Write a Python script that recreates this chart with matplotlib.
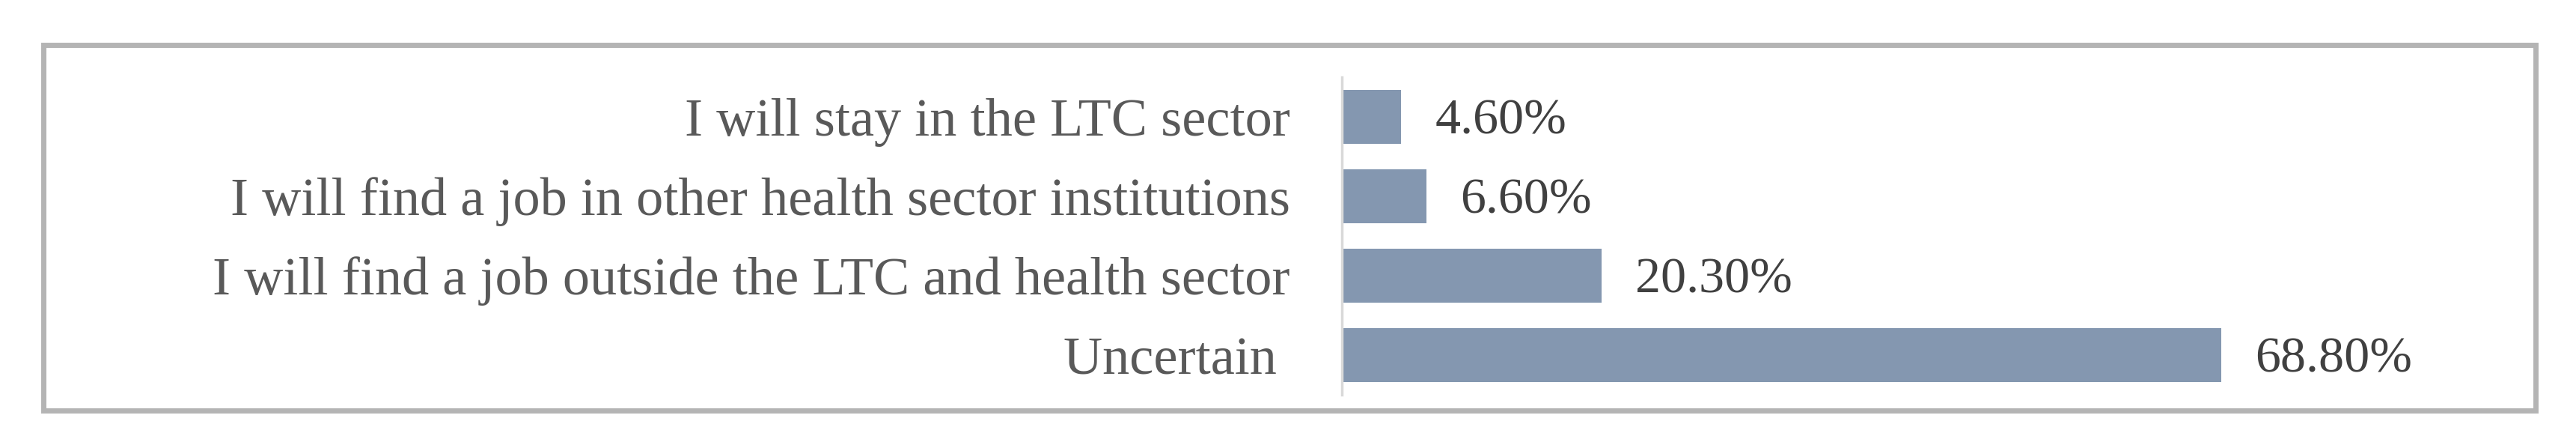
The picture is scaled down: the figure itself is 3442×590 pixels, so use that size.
import matplotlib.pyplot as plt
from matplotlib.patches import Rectangle

# data
categories = [
    "I will stay in the LTC sector",
    "I will find a job in other health sector institutions",
    "I will find a job outside the LTC and health sector",
    "Uncertain ",
]
values = [4.6, 6.6, 20.3, 68.8]

W, H = 3442, 590
fig = plt.figure(figsize=(W / 100, H / 100), dpi=100)

# outer frame round the chart
fig.patches.append(Rectangle((58 / W, 1 - 548 / H), (3388 - 58) / W, (548 - 60) / H,
                             transform=fig.transFigure, fill=False,
                             edgecolor='#b4b4b4', linewidth=5))

ax = fig.add_axes([1793 / W, 1 - 527 / H, 1366 / W, 424 / H])
y = range(len(categories))
ax.barh(y, values, height=0.67, color='#8497b0')
ax.set_xlim(0, 80)
ax.set_ylim(3.5, -0.5)

ax.set_yticks(list(y))
ax.set_yticklabels(categories, fontsize=52, color='#595959', family='Liberation Serif')
ax.tick_params(axis='y', length=0, pad=50)
ax.set_xticks([])

for s in ['top', 'right', 'bottom']:
    ax.spines[s].set_visible(False)
ax.spines['left'].set_color('#d9d9d9')
ax.spines['left'].set_linewidth(2.5)

for i, v in enumerate(values):
    ax.annotate(f"{v:.2f}%", (v, i), xytext=(33, -4), textcoords='offset points',
                va='center', ha='left', fontsize=49, color='#404040',
                family='Liberation Serif')

fig.savefig('out.png', dpi=100, facecolor='white')
